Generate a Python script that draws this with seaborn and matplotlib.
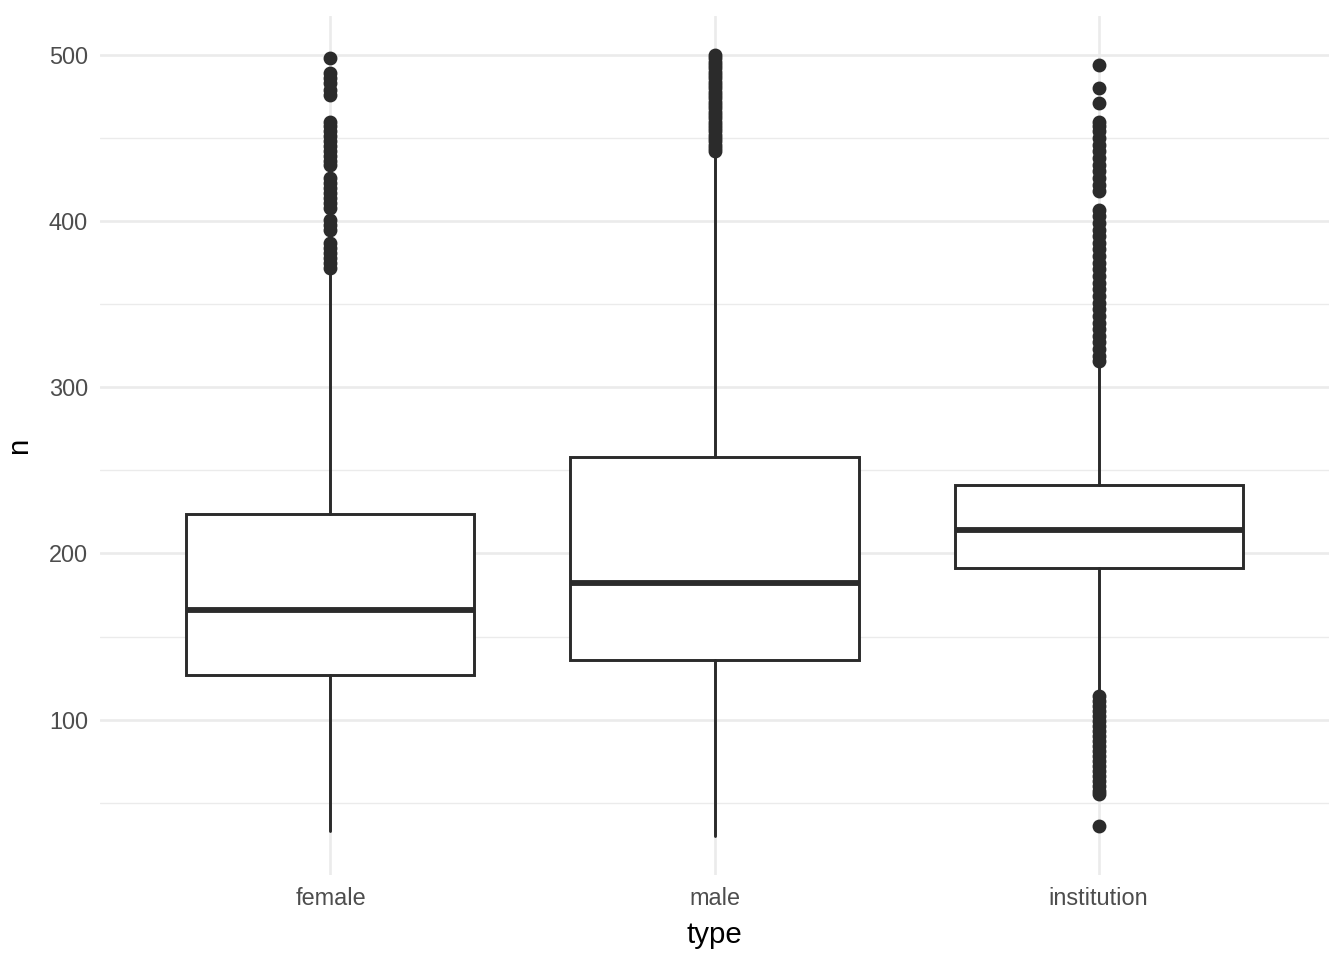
import numpy as np
import matplotlib
matplotlib.use("Agg")
import matplotlib.pyplot as plt
from matplotlib.ticker import MultipleLocator
import seaborn as sns

# ── data ───────────────────────────────────────────────────────────────────
types    = ["female", "male", "institution"]
q1       = [127, 136, 191]
medians  = [166, 182, 214]
q3       = [224, 258, 241]
whis_lo  = [33, 30, 117]
whis_hi  = [370, 441, 315]

out_female = [498, 489, 486, 483, 479, 476, 460, 457, 454, 451, 448, 445,
              442, 439, 436, 434, 426, 423, 420, 417, 414, 411, 408, 401,
              398, 395, 387, 384, 381, 378, 375, 372]
out_male = [500, 498, 496, 494, 492, 490, 488, 486, 484, 482, 480, 478,
            476, 474, 472, 470, 468, 466, 464, 462, 460, 458, 456, 454,
            452, 450, 448, 446, 444, 442]
out_institution = [494, 480, 471, 460, 457, 454, 450, 446, 442, 438, 434,
                   430, 426, 422, 418, 407, 403, 399, 395, 391, 387, 383,
                   379, 375, 371, 367, 363, 359, 355, 351, 347, 343, 339,
                   335, 331, 327, 323, 319, 316,
                   114, 111, 108, 105, 102, 99, 96, 93, 90, 87, 84, 81,
                   78, 75, 72, 69, 66, 63, 60, 57, 55, 36]
outliers = [out_female, out_male, out_institution]

# ── style ──────────────────────────────────────────────────────────────────
sns.set_theme(style="whitegrid")
plt.rcParams["font.family"] = ["Liberation Sans", "DejaVu Sans"]

LINE = "#2b2b2b"
GRID = "#ebebeb"

stats = []
for i, t in enumerate(types):
    stats.append({
        "label": t, "q1": q1[i], "med": medians[i], "q3": q3[i],
        "whislo": whis_lo[i], "whishi": whis_hi[i], "fliers": outliers[i],
    })

fig, ax = plt.subplots(figsize=(7, 5), dpi=192)
fig.subplots_adjust(left=100 / 1344, right=1329 / 1344,
                    bottom=1 - 875 / 960, top=1 - 16 / 960)

ax.bxp(stats, positions=range(len(types)), widths=0.75, patch_artist=True,
       showcaps=False,
       boxprops=dict(facecolor="white", edgecolor=LINE, linewidth=1.1),
       medianprops=dict(color=LINE, linewidth=2.2),
       whiskerprops=dict(color=LINE, linewidth=1.1),
       flierprops=dict(marker="o", markerfacecolor=LINE,
                       markeredgecolor=LINE, markersize=4.2),
       zorder=3)

ax.set_xlim(-0.6, len(types) - 0.4)
ax.set_ylim(6.5, 523.5)
ax.yaxis.set_major_locator(MultipleLocator(100))
ax.yaxis.set_minor_locator(MultipleLocator(50))
ax.grid(which="major", color=GRID, linewidth=1.0)
ax.grid(which="minor", axis="y", color=GRID, linewidth=0.5)
ax.set_axisbelow(True)
ax.set_facecolor("white")
sns.despine(ax=ax, left=True, bottom=True)

ax.tick_params(axis="both", which="both", length=0, labelsize=8.8,
               labelcolor="#4d4d4d", pad=4.5)
ax.set_xticks(range(len(types)))
ax.set_xticklabels(types)
ax.set_xlabel("type", fontsize=11, color="black", labelpad=4)
ax.set_ylabel("n", fontsize=11, color="black", labelpad=6)

fig.savefig("out.png", dpi=192)
